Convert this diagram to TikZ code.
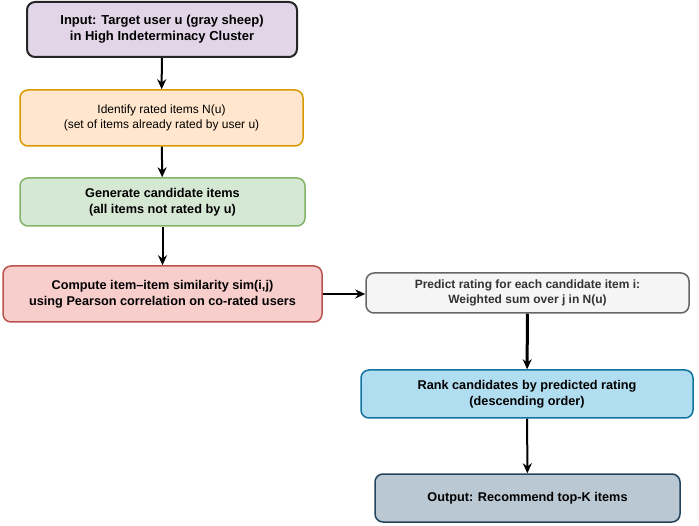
\documentclass[tikz,border=0pt]{standalone}
\usepackage{fontspec}
\setmainfont{Liberation Sans}
\usetikzlibrary{arrows.meta}
\definecolor{pfill}{HTML}{E1D5E7}
\definecolor{ofill}{HTML}{FFE6CC}\definecolor{oline}{HTML}{D79B00}
\definecolor{gfill}{HTML}{D5E8D4}\definecolor{gline}{HTML}{82B366}
\definecolor{rfill}{HTML}{F8CECC}\definecolor{rline}{HTML}{B85450}
\definecolor{wfill}{HTML}{F5F5F5}\definecolor{wline}{HTML}{666666}
\definecolor{bfill}{HTML}{B1DDF0}\definecolor{bline}{HTML}{10739E}
\definecolor{sfill}{HTML}{BAC8D3}\definecolor{sline}{HTML}{23445D}
\tikzset{
  box/.style={draw, rounded corners=8pt, line width=1.5pt, align=center, inner sep=0pt, font=\bfseries\fontsize{12.7}{16}\selectfont},
  arr/.style={-{Stealth[length=10pt,width=9pt]}, line width=2pt, black},
}
\begin{document}
\begin{tikzpicture}[x=1pt,y=-1pt]
\useasboundingbox (0,0) rectangle (699,526);
\node[box, fill=pfill, draw=black!85, line width=2pt, minimum width=270pt, minimum height=55pt, font=\bfseries\fontsize{13}{16}\selectfont] (in) at (162,29.5) {Input: Target user u (gray sheep)\\in High Indeterminacy Cluster};
\node[box, fill=ofill, draw=oline, minimum width=283pt, minimum height=56pt, font=\fontsize{12}{14.5}\selectfont] (id) at (161.5,118) {Identify rated items N(u)\\(set of items already rated by user u)};
\node[box, fill=gfill, draw=gline, minimum width=285pt, minimum height=48pt] (gen) at (162.5,202) {Generate candidate items\\(all items not rated by u)};
\node[box, fill=rfill, draw=rline, minimum width=319pt, minimum height=56pt] (sim) at (162.5,294) {Compute item--item similarity sim(i,j)\\using Pearson correlation on co-rated users};
\node[box, fill=wfill, draw=wline, minimum width=323pt, minimum height=40pt, text=black!80, font=\bfseries\fontsize{12}{15}\selectfont] (pred) at (527.5,293) {Predict rating for each candidate item i:\\Weighted sum over j in N(u)};
\node[box, fill=bfill, draw=bline, minimum width=332pt, minimum height=48pt] (rank) at (527,394) {Rank candidates by predicted rating\\(descending order)};
\node[box, fill=sfill, draw=sline, minimum width=305pt, minimum height=48pt] (out) at (527.5,498) {Output: Recommend top-K items};
\draw[arr] (in) -- (id);
\draw[arr] (id) -- (gen);
\draw[arr] (gen) -- (sim);
\draw[arr] (sim.east) -- (pred.west |- sim.east);
\draw[arr, line width=3pt] (pred) -- (rank);
\draw[arr] (rank) -- (out);
\end{tikzpicture}
\end{document}
